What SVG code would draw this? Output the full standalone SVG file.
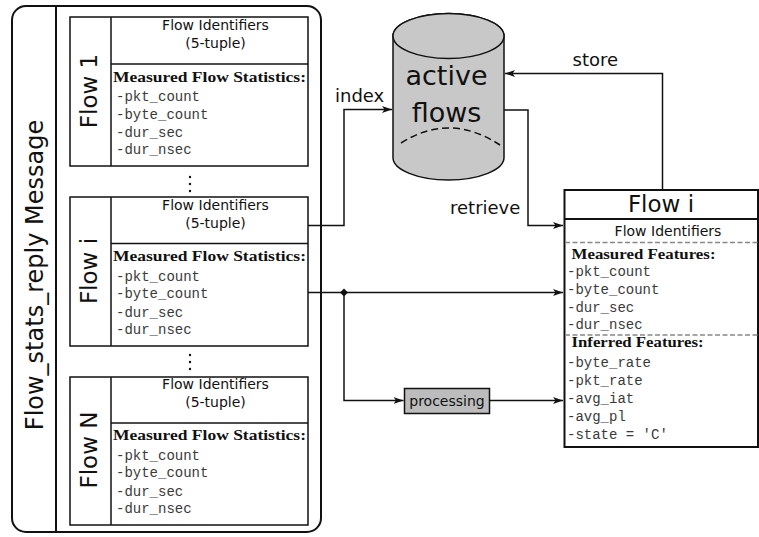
<svg xmlns="http://www.w3.org/2000/svg" width="759" height="537" viewBox="0 0 759 537">
<defs>
<marker id="arr" markerUnits="userSpaceOnUse" markerWidth="11" markerHeight="8" refX="10" refY="3.5" orient="auto">
<path d="M0,0 L10,3.5 L0,7 L2.5,3.5 Z" fill="#111"/>
</marker>
<style>
.box{fill:#fff;stroke:#111;stroke-width:1.5}
.ln{fill:none;stroke:#111;stroke-width:1.5}
.sans{font-family:"DejaVu Sans",sans-serif;fill:#111}
.hd{font-family:"DejaVu Sans",sans-serif;font-size:14px;fill:#111;text-anchor:middle}
.bf{font-family:"Liberation Serif",serif;font-weight:bold;font-size:14px;fill:#111}
.mono{font-family:"Liberation Mono",monospace;font-size:14px;fill:#3a3a3a}
.lab{font-family:"DejaVu Sans",sans-serif;font-size:18px;fill:#111}
.dash{stroke:#888;stroke-width:1.5;stroke-dasharray:5,2.5}
.conn{fill:none;stroke:#111;stroke-width:1.5}
</style>
</defs>

<g id="message">
<rect x="12" y="6" width="309" height="526" rx="14" ry="14" fill="#fff" stroke="#111" stroke-width="2"/>
<line x1="56" y1="6" x2="56" y2="532" stroke="#111" stroke-width="2"/>
<text class="sans" font-size="24" text-anchor="middle" transform="translate(43,275) rotate(-90)">Flow_stats_reply Message</text>
<g fill="#111">
<circle cx="190" cy="177" r="1.2"/><circle cx="190" cy="184" r="1.2"/><circle cx="190" cy="191" r="1.2"/>
<circle cx="190" cy="355" r="1.2"/><circle cx="190" cy="362" r="1.2"/><circle cx="190" cy="369" r="1.2"/>
</g>
</g>

<g id="flow1">
<rect class="box" x="70" y="17" width="238" height="149"/>
<line class="ln" x1="111" y1="17" x2="111" y2="166"/>
<line class="ln" x1="111" y1="64" x2="308" y2="64"/>
<text class="sans" font-size="23" text-anchor="middle" transform="translate(97,91) rotate(-90)">Flow 1</text>
<text class="hd" x="215.5" y="30">Flow Identifiers</text>
<text class="hd" x="215.5" y="48">(5-tuple)</text>
<text class="bf" x="113" y="82" textLength="193" lengthAdjust="spacingAndGlyphs">Measured Flow Statistics:</text>
<text class="mono" x="116" y="101">-pkt_count</text>
<text class="mono" x="116" y="118.5">-byte_count</text>
<text class="mono" x="116" y="136.5">-dur_sec</text>
<text class="mono" x="116" y="154">-dur_nsec</text>
</g>

<g id="flowi">
<rect class="box" x="70" y="197" width="238" height="149"/>
<line class="ln" x1="111" y1="197" x2="111" y2="346"/>
<line class="ln" x1="111" y1="243.5" x2="308" y2="243.5"/>
<text class="sans" font-size="23" text-anchor="middle" transform="translate(97,271) rotate(-90)">Flow i</text>
<text class="hd" x="215.5" y="210">Flow Identifiers</text>
<text class="hd" x="215.5" y="228">(5-tuple)</text>
<text class="bf" x="113" y="261" textLength="193" lengthAdjust="spacingAndGlyphs">Measured Flow Statistics:</text>
<text class="mono" x="116" y="280.5">-pkt_count</text>
<text class="mono" x="116" y="298">-byte_count</text>
<text class="mono" x="116" y="316.5">-dur_sec</text>
<text class="mono" x="116" y="334">-dur_nsec</text>
</g>

<g id="flowN">
<rect class="box" x="70" y="377" width="238" height="148"/>
<line class="ln" x1="111" y1="377" x2="111" y2="525"/>
<line class="ln" x1="111" y1="423" x2="308" y2="423"/>
<text class="sans" font-size="23" text-anchor="middle" transform="translate(97,450) rotate(-90)">Flow N</text>
<text class="hd" x="215.5" y="389">Flow Identifiers</text>
<text class="hd" x="215.5" y="407">(5-tuple)</text>
<text class="bf" x="113" y="440" textLength="193" lengthAdjust="spacingAndGlyphs">Measured Flow Statistics:</text>
<text class="mono" x="116" y="459.5">-pkt_count</text>
<text class="mono" x="116" y="477">-byte_count</text>
<text class="mono" x="116" y="495.5">-dur_sec</text>
<text class="mono" x="116" y="513">-dur_nsec</text>
</g>

<g id="activeflows">
<path d="M393,36 L393,157.5 A55.5,22.5 0 0 0 504,157.5 L504,36 A55.5,22.5 0 0 0 393,36 Z" fill="#c8c8c8" stroke="#111" stroke-width="1.5"/>
<ellipse cx="448.5" cy="36" rx="55.5" ry="22.5" fill="#c8c8c8" stroke="#111" stroke-width="1.5"/>
<path d="M401,143 Q450,112 500,145" fill="none" stroke="#111" stroke-width="1.5" stroke-dasharray="7,4"/>
<text class="sans" font-size="27" text-anchor="middle" x="446.5" y="85">active</text>
<text class="sans" font-size="27" text-anchor="middle" x="446.5" y="121.5">flows</text>
</g>

<g id="processing">
<rect x="404.5" y="388.5" width="85" height="25" fill="#bcbcbc" stroke="#111" stroke-width="1.5"/>
<text class="sans" font-size="14" text-anchor="middle" x="447" y="405.5">processing</text>
</g>

<g id="flowrecord">
<rect x="564.5" y="190" width="193.5" height="257" fill="#fff" stroke="#111" stroke-width="2"/>
<line x1="564.5" y1="219" x2="758" y2="219" stroke="#111" stroke-width="2"/>
<text class="sans" font-size="23" text-anchor="middle" x="661" y="212">Flow i</text>
<text class="hd" x="668" y="235.5">Flow Identifiers</text>
<line class="dash" x1="565" y1="242.5" x2="758" y2="242.5"/>
<text class="bf" x="571.5" y="259" textLength="144" lengthAdjust="spacingAndGlyphs">Measured Features:</text>
<text class="mono" x="567" y="276">-pkt_count</text>
<text class="mono" x="567" y="293.5">-byte_count</text>
<text class="mono" x="567" y="311.5">-dur_sec</text>
<text class="mono" x="567" y="329">-dur_nsec</text>
<line class="dash" x1="565" y1="335" x2="758" y2="335"/>
<text class="bf" x="571.5" y="347" textLength="132" lengthAdjust="spacingAndGlyphs">Inferred Features:</text>
<text class="mono" x="567" y="366.5">-byte_rate</text>
<text class="mono" x="567" y="384.5">-pkt_rate</text>
<text class="mono" x="567" y="402.5">-avg_iat</text>
<text class="mono" x="567" y="420.5">-avg_pl</text>
<text class="mono" x="567" y="438.5">-state = 'C'</text>
</g>

<g id="connectors">
<polyline class="conn" points="308,225.5 344,225.5 344,109.5 392,109.5" marker-end="url(#arr)"/>
<polyline class="conn" points="504,110 528,110 528,225.5 563,225.5" marker-end="url(#arr)"/>
<polyline class="conn" points="662.5,189 662.5,73.5 505,73.5" marker-end="url(#arr)"/>
<line class="conn" x1="308" y1="292.5" x2="563" y2="292.5" marker-end="url(#arr)"/>
<polyline class="conn" points="344,292.5 344,400.5 403.5,400.5" marker-end="url(#arr)"/>
<line class="conn" x1="489.5" y1="400.5" x2="563" y2="400.5" marker-end="url(#arr)"/>
<path d="M344,288.5 L348,292.5 L344,296.5 L340,292.5 Z" fill="#111"/>
<text class="lab" x="335" y="102">index</text>
<text class="lab" x="450" y="213.5">retrieve</text>
<text class="lab" x="572.5" y="66">store</text>
</g>
</svg>
